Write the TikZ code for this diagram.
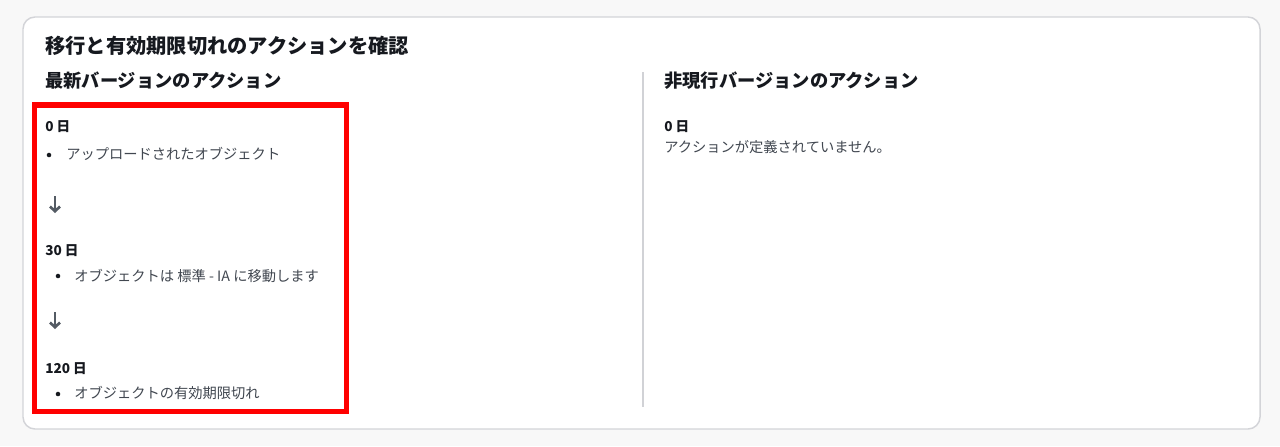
\documentclass[tikz,border=0pt]{standalone}
\usepackage{fontspec}
\setmainfont{Noto Sans CJK JP}
\usetikzlibrary{arrows.meta}
\definecolor{pagebg}{HTML}{F8F8F8}
\definecolor{cardline}{HTML}{D3D4D8}
\definecolor{headtxt}{HTML}{16191F}
\definecolor{bodytxt}{HTML}{414750}
\definecolor{boxred}{HTML}{FF0000}
\definecolor{divline}{HTML}{D1D2D6}
\definecolor{arrowgray}{HTML}{545B64}
\tikzset{
  title/.style={anchor=west, inner sep=0pt, font=\bfseries\fontsize{15.2pt}{18pt}\selectfont, text=headtxt},
  subtitle/.style={anchor=west, inner sep=0pt, font=\bfseries\fontsize{13.7pt}{16pt}\selectfont, text=headtxt},
  dayhead/.style={anchor=west, inner sep=0pt, font=\bfseries\fontsize{10.2pt}{12pt}\selectfont, text=headtxt},
  itemtxt/.style={anchor=west, inner sep=0pt, font=\fontsize{10.7pt}{13pt}\selectfont, text=bodytxt},
  bulletdot/.style={fill=headtxt, draw=none, circle, inner sep=0pt, minimum size=3.4pt},
  downarrow/.style={draw=arrowgray, line width=2pt, -{Straight Barb[length=3.5pt,width=7.5pt,line width=2pt]}},
}
\begin{document}
\begin{tikzpicture}[x=0.75pt,y=-0.75pt]
\useasboundingbox (0,0) rectangle (1280,446);
\fill[pagebg] (0,0) rectangle (1280,446);
\draw[cardline, fill=white, line width=1.1pt, rounded corners=9pt] (23,17) rectangle (1260,429);

\node[title] (t) at (45,46) {移行と有効期限切れのアクションを確認};
\node[subtitle] (s1) at (45,81) {最新バージョンのアクション};
\node[subtitle] (s2) at (664,81) {非現行バージョンのアクション};

\draw[divline, line width=1pt] (643,72) -- (643,407);

% left column
\node[dayhead] (d0) at (45,127) {0 日};
\node[bulletdot] (b1) at (49,155) {};
\node[itemtxt] (i1) at (66,154) {アップロードされたオブジェクト};
\coordinate (a1s) at (55,196);
\coordinate (a1e) at (55,213);
\draw[downarrow] (a1s) -- (a1e);

\node[dayhead] (d30) at (45,251) {30 日};
\node[bulletdot] (b2) at (58,276) {};
\node[itemtxt] (i2) at (74,276) {オブジェクトは 標準 - IA に移動します};
\coordinate (a2s) at (55,312);
\coordinate (a2e) at (55,329);
\draw[downarrow] (a2s) -- (a2e);

\node[dayhead] (d120) at (45,369) {120 日};
\node[bulletdot] (b3) at (58,394) {};
\node[itemtxt] (i3) at (74,393) {オブジェクトの有効期限切れ};

\draw[boxred, line width=4.1pt] (34.5,105) rectangle (346.5,411.5);

% right column
\node[dayhead] (r0) at (664,127) {0 日};
\node[itemtxt] (r1) at (664,147) {アクションが定義されていません。};
\end{tikzpicture}
\end{document}
